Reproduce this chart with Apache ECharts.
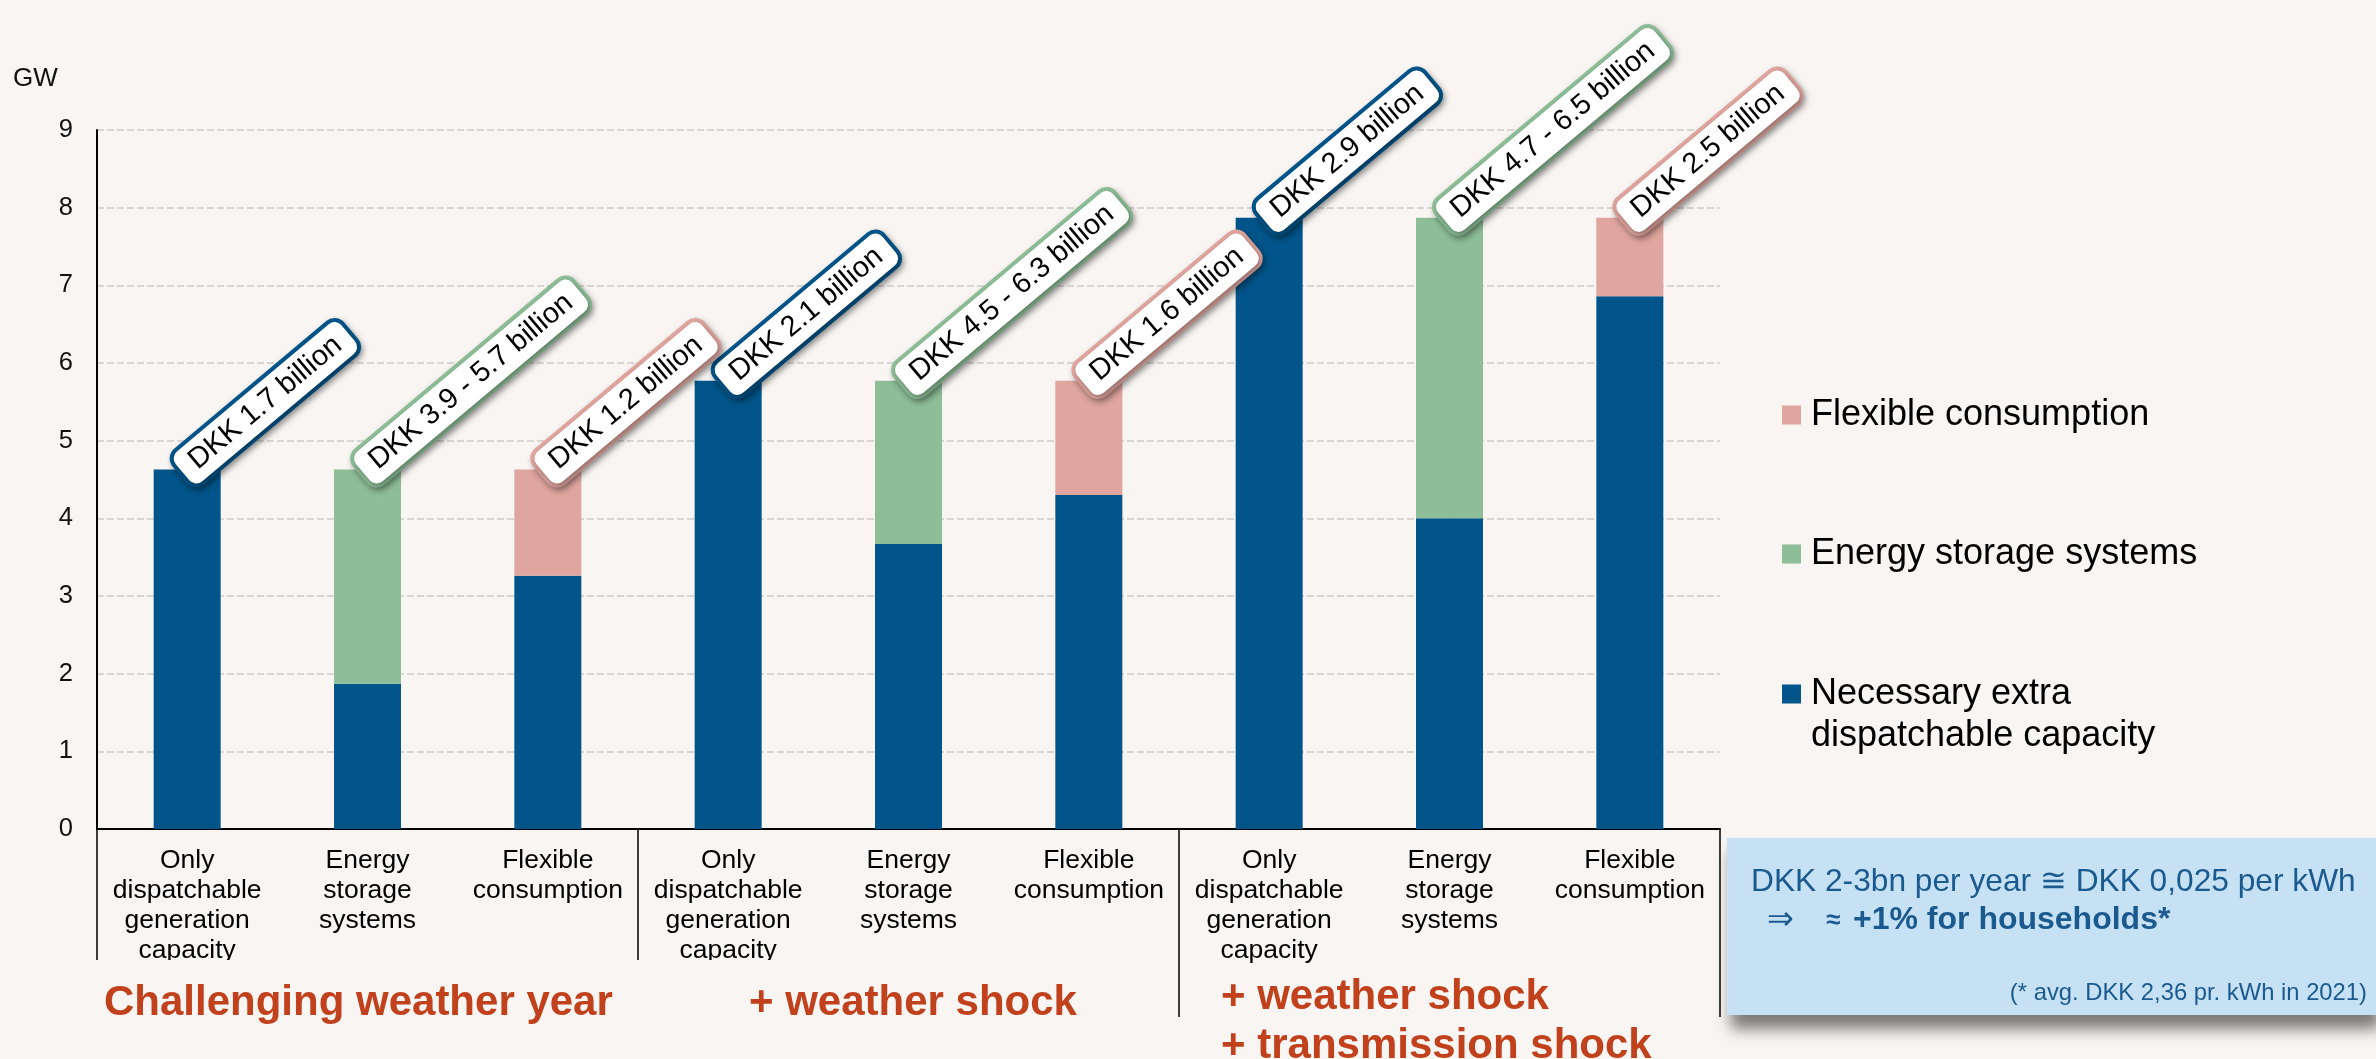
<!DOCTYPE html>
<html>
<head>
<meta charset="utf-8">
<script src="https://cdn.jsdelivr.net/npm/echarts@6/dist/echarts.min.js"></script>
<style>
  html, body { margin: 0; padding: 0; background: #F8F5F2; }
  #chart { width: 2376px; height: 1059px; }
</style>
</head>
<body>
<div id="chart"></div>
<script>
// ---------- data ----------
const categories = [
  'Only\ndispatchable\ngeneration\ncapacity', 'Energy\nstorage\nsystems', 'Flexible\nconsumption',
  'Only\ndispatchable\ngeneration\ncapacity', 'Energy\nstorage\nsystems', 'Flexible\nconsumption',
  'Only\ndispatchable\ngeneration\ncapacity', 'Energy\nstorage\nsystems', 'Flexible\nconsumption'
];
const seriesNames = ['Necessary extra dispatchable capacity', 'Energy storage systems', 'Flexible consumption'];
const dispatchable = [4.63, 1.87, 3.26, 5.77, 3.67, 4.30, 7.87, 4.00, 6.86];
const storage      = [0,    2.76, 0,    0,    2.10, 0,    0,    3.87, 0   ];
const flexible     = [0,    0,    1.37, 0,    0,    1.47, 0,    0,    1.01];
const costLabels = [
  'DKK 1.7 billion', 'DKK 3.9 - 5.7 billion', 'DKK 1.2 billion',
  'DKK 2.1 billion', 'DKK 4.5 - 6.3 billion', 'DKK 1.6 billion',
  'DKK 2.9 billion', 'DKK 4.7 - 6.5 billion', 'DKK 2.5 billion'
];
const groupLabels = ['Challenging weather year', '+ weather shock', '+ weather shock\n+ transmission shock'];
const legendLabels = ['Flexible consumption', 'Energy storage systems', 'Necessary extra\ndispatchable capacity'];
const yMin = 0, yMax = 9, yStep = 1;
const unitLabel = 'GW';
const noteLine1 = 'DKK 2-3bn per year \u2245 DKK 0,025 per kWh';
const noteArrow = '\u21D2', noteApprox = '\u2248', noteBold = '+1% for households*';
const noteLine3 = '(* avg. DKK 2,36 pr. kWh in 2021)';

// ---------- style ----------
const FONT = '"Liberation Sans", Arial, Helvetica, sans-serif';
const BG = '#F8F5F2';
const C_BLUE = '#02558A', C_GREEN = '#8DBE98', C_PINK = '#E0A59F';
const C_GROUP = '#C2411D', C_NOTE = '#1B5A8E';
const colors = [C_BLUE, C_GREEN, C_PINK];
const allValues = [dispatchable, storage, flexible];

function topIndex(i) {
  if (flexible[i] > 0) return 2;
  if (storage[i] > 0) return 1;
  return 0;
}
function buildData(sIdx) {
  return allValues[sIdx].map((v, i) => {
    if (topIndex(i) !== sIdx) return v;
    return { value: v, label: { show: true, formatter: costLabels[i], borderColor: colors[sIdx] } };
  });
}

const labelBase = {
  show: false, position: 'top', distance: 1, offset: [-6, 0], rotate: 40,
  align: 'left', verticalAlign: 'middle',
  fontFamily: FONT, fontSize: 29, color: '#000',
  backgroundColor: '#FFFFFF', borderWidth: 4, borderRadius: 9,
  padding: [6, 13, 4, 13],
  shadowBlur: 6, shadowColor: 'rgba(0,0,0,0.35)', shadowOffsetX: 2, shadowOffsetY: 3
};

const series = [0, 1, 2].map(s => ({
  name: seriesNames[s], type: 'bar', stack: 'total', barWidth: 67,
  xAxisIndex: 0, yAxisIndex: 0,
  itemStyle: { color: colors[s] },
  label: labelBase,
  data: buildData(s),
  z: 2
}));

const chart = echarts.init(document.getElementById('chart'), null, { renderer: 'canvas' });

const legendBase = {
  orient: 'vertical', left: 1782, padding: 0, icon: 'rect', itemWidth: 19, itemHeight: 19,
  selectedMode: false,
  textStyle: { fontFamily: FONT, fontSize: 36, color: '#000', lineHeight: 40, padding: [0, 0, 0, 5] }
};

chart.setOption({
  backgroundColor: BG,
  animation: false,
  grid: [
    { left: 97, right: 656, top: 130, bottom: 230, containLabel: false },
    { left: 1179, right: 656, top: 130, bottom: 230, containLabel: false }
  ],
  xAxis: [{
    type: 'category', data: categories, position: 'bottom', gridIndex: 0,
    axisLine: { lineStyle: { color: '#000', width: 2 } },
    axisTick: { show: true, length: 131, lineStyle: { color: '#000', width: 1.5 },
      interval: function (idx) { return idx === 0 || idx === 3; } },
    axisLabel: { interval: 0, margin: 17, fontFamily: FONT, fontSize: 26.5, lineHeight: 30, color: '#000' },
    splitLine: { show: false }
  }, {
    type: 'category', data: [''], position: 'bottom', gridIndex: 1,
    axisLine: { show: false },
    axisTick: { show: true, length: 188, lineStyle: { color: '#000', width: 1.5 } },
    axisLabel: { show: false },
    splitLine: { show: false }
  }],
  yAxis: [{
    type: 'value', min: yMin, max: yMax, interval: yStep, gridIndex: 0,
    axisLine: { show: true, lineStyle: { color: '#000', width: 2 } },
    axisTick: { show: false },
    axisLabel: { margin: 24, fontFamily: FONT, fontSize: 25.5, color: '#111' },
    splitLine: { show: true, lineStyle: { color: '#D9D6D3', width: 2, type: [7, 3] } }
  }, {
    type: 'value', min: yMin, max: yMax, gridIndex: 1, show: false
  }],
  legend: [
    Object.assign({}, legendBase, { top: 395, data: [seriesNames[2]],
      formatter: function () { return legendLabels[0]; } }),
    Object.assign({}, legendBase, { top: 534, data: [seriesNames[1]],
      formatter: function () { return legendLabels[1]; } }),
    Object.assign({}, legendBase, { top: 631, data: [{ name: seriesNames[0],
      textStyle: { fontFamily: FONT, fontSize: 36, color: '#000', lineHeight: 42, padding: [0, 0, 0, 5] } }],
      formatter: function () { return '\n' + legendLabels[2]; } })
  ],
  series: series,
  graphic: [
    // clip the bottom of the first two groups' category labels, as in the source slide
    { type: 'rect', z: 100, shape: { x: 99, y: 960, width: 1078, height: 14 }, style: { fill: BG } },
    { type: 'text', left: 13, top: 66, style: { text: unitLabel, font: '26px ' + FONT, fill: '#111' } },
    { type: 'text', x: 104, y: 1003, z: 101, style: { text: groupLabels[0], font: 'bold 42px ' + FONT, fill: C_GROUP, verticalAlign: 'middle', textVerticalAlign: 'middle' } },
    { type: 'text', x: 749, y: 1003, z: 101, style: { text: groupLabels[1], font: 'bold 42px ' + FONT, fill: C_GROUP, verticalAlign: 'middle', textVerticalAlign: 'middle' } },
    { type: 'text', x: 1221, y: 973, z: 101, style: { text: groupLabels[2], font: 'bold 42px ' + FONT, fill: C_GROUP, lineHeight: 49 } },
    { type: 'rect', shape: { x: 1727, y: 838, width: 649, height: 177 },
      style: { fill: '#C6E0F4', shadowBlur: 14, shadowOffsetX: 4, shadowOffsetY: 14, shadowColor: 'rgba(0,0,0,0.5)' }, z: 10 },
    { type: 'text', x: 1751, y: 882, z: 11, style: { text: noteLine1, font: '31.7px ' + FONT, fill: C_NOTE, verticalAlign: 'middle', textVerticalAlign: 'middle' } },
    { type: 'text', x: 1767, y: 921, z: 11, style: { text: noteArrow, font: '32px "DejaVu Sans", ' + FONT, fill: C_NOTE, verticalAlign: 'middle', textVerticalAlign: 'middle' } },
    { type: 'text', x: 1826, y: 921, z: 11, style: { text: noteApprox, font: 'bold 26px ' + FONT, fill: C_NOTE, verticalAlign: 'middle', textVerticalAlign: 'middle' } },
    { type: 'text', x: 1853, y: 920, z: 11, style: { text: noteBold, font: 'bold 32px ' + FONT, fill: C_NOTE, verticalAlign: 'middle', textVerticalAlign: 'middle' } },
    { type: 'text', x: 2367, y: 993, z: 11, style: { text: noteLine3, font: '23.8px ' + FONT, fill: C_NOTE, align: 'right', textAlign: 'right', verticalAlign: 'middle', textVerticalAlign: 'middle' } }
  ]
});
</script>
</body>
</html>
